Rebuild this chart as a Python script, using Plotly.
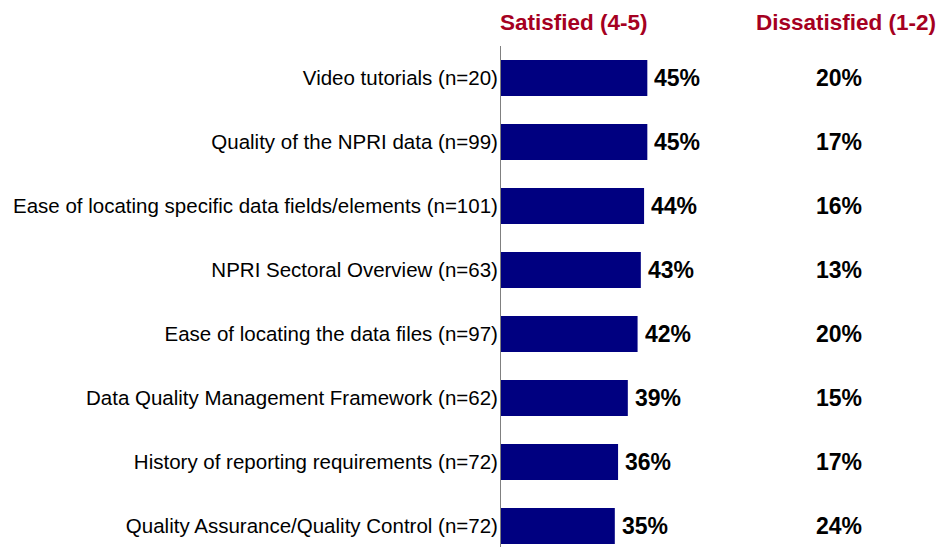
import plotly.graph_objects as go

categories = [
    "Video tutorials (n=20)",
    "Quality of the NPRI data (n=99)",
    "Ease of locating specific data fields/elements (n=101)",
    "NPRI Sectoral Overview (n=63)",
    "Ease of locating the data files (n=97)",
    "Data Quality Management Framework (n=62)",
    "History of reporting requirements (n=72)",
    "Quality Assurance/Quality Control (n=72)",
]
satisfied = [45, 45, 44, 43, 42, 39, 36, 35]
dissatisfied = [20, 17, 16, 13, 20, 15, 17, 24]
headers = ["Satisfied (4-5)", "Dissatisfied (1-2)"]

NAVY = "#000080"
RED = "#A50021"
FONT = "Liberation Sans, Arial, sans-serif"

fig = go.Figure()
fig.add_trace(go.Bar(
    y=categories, x=satisfied, orientation="h",
    marker=dict(color=NAVY, line=dict(width=0)),
    width=0.5625, hoverinfo="skip",
))

for c, v in zip(categories, satisfied):
    fig.add_annotation(x=v, y=c, xref="x", yref="y", text=f"<b>{v}%</b>",
                       showarrow=False, xanchor="left", xshift=5,
                       font=dict(family=FONT, size=23, color="#000000"))
for c, v in zip(categories, dissatisfied):
    fig.add_annotation(x=104, y=c, xref="x", yref="y", text=f"<b>{v}%</b>",
                       showarrow=False, xanchor="center",
                       font=dict(family=FONT, size=23, color="#000000"))

header_x = [22.3, 106.2]
for h, hx in zip(headers, header_x):
    fig.add_annotation(x=hx, y=1 + 24 / 501, xref="x", yref="paper",
                       text=f"<b>{h}</b>", showarrow=False,
                       xanchor="center", yanchor="middle",
                       font=dict(family=FONT, size=22.5, color=RED))

fig.update_layout(
    width=940, height=547,
    margin=dict(l=501, r=0, t=46, b=0),
    paper_bgcolor="white", plot_bgcolor="white",
    showlegend=False,
    font=dict(family=FONT, size=20.5, color="#000000"),
    xaxis=dict(range=[0, 135], visible=False, fixedrange=True),
    yaxis=dict(categoryorder="array", categoryarray=categories,
               range=[7.328, -0.5], showline=True, linecolor="#808080",
               linewidth=1, showgrid=False, zeroline=False, fixedrange=True,
               ticks="", ticklabelstandoff=-2, automargin=False,
               tickfont=dict(family=FONT, size=20.5, color="#000000")),
)

fig.write_html("out.html", config={"displayModeBar": False, "staticPlot": True},
               post_script="document.body.style.margin='0';")
